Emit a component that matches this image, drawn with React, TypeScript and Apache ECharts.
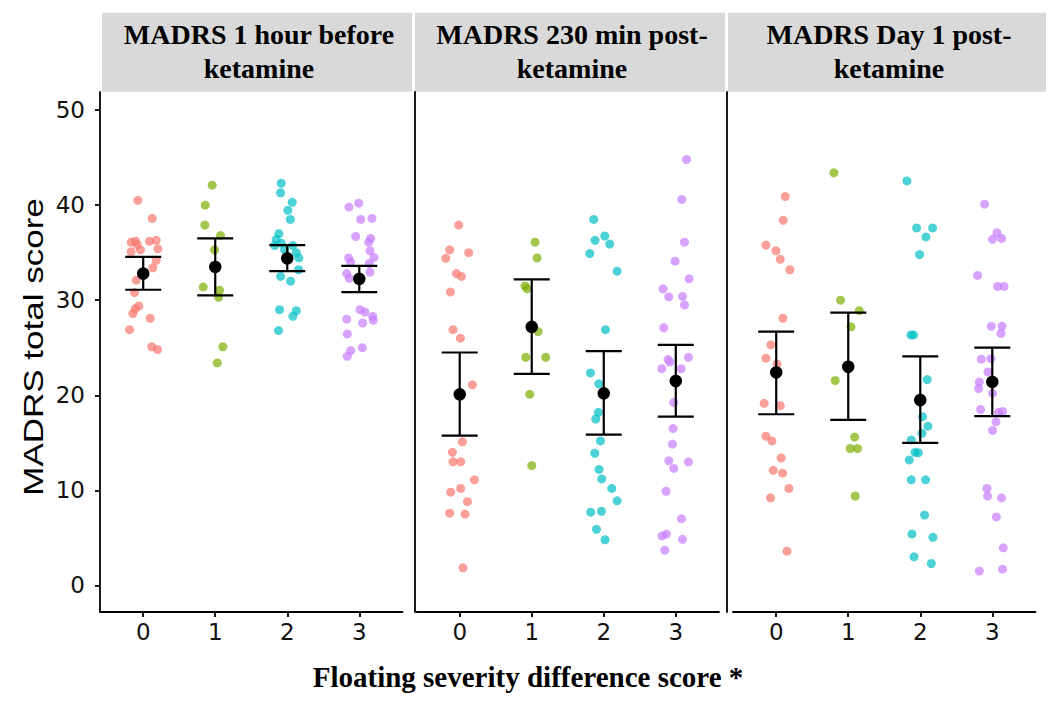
import React, { useEffect, useRef } from "react";
import * as echarts from "echarts";

// ---------- DATA ----------
const panelTitles: [string, string][] = [
  ["MADRS 1 hour before", "ketamine"],
  ["MADRS 230 min post-", "ketamine"],
  ["MADRS Day 1 post-", "ketamine"],
];
const xTicks = [0, 1, 2, 3];
const yTicks = [0, 10, 20, 30, 40, 50];
const groupColors = ["#F8766D", "#7CAE00", "#00BFC4", "#C77CFF"];
const yTitle = "MADRS total score";
const xTitle = "Floating severity difference score *";

// points: [jittered x, MADRS score]
// Panel 1: 1 hour before ketamine
const p1g0: [number, number][] = [
  [-0.075, 40.5], [0.125, 38.6], [-0.167, 36.1], [-0.107, 36.2], [-0.083, 35.85], [-0.038, 35.3],
  [-0.167, 35.1], [0.088, 36.2], [0.18, 36.3], [0.203, 35.4], [0.18, 34.2], [0.133, 33.4],
  [-0.097, 32.1], [-0.121, 30.8], [-0.061, 29.4], [-0.111, 29.1], [-0.144, 28.6], [0.097, 28.1],
  [-0.19, 26.9], [0.119, 25.1], [0.199, 24.8],
];
const p1g1: [number, number][] = [
  [0.958, 42.1], [0.861, 40.0], [0.856, 37.9], [1.074, 36.8], [0.99, 35.3], [0.833, 31.4],
  [1.06, 31.05], [1.046, 30.3], [1.106, 25.1], [1.028, 23.4],
];
const p1g2: [number, number][] = [
  [1.917, 42.3], [1.907, 41.3], [2.069, 40.3], [2.008, 39.45], [2.042, 38.5], [1.883, 37.0],
  [1.847, 36.4], [1.824, 35.75], [1.917, 36.0], [2.078, 35.75], [1.963, 35.3], [2.125, 35.0],
  [2.161, 34.45], [2.157, 33.2], [1.907, 32.5], [2.046, 32.0], [1.893, 29.0], [2.125, 28.9],
  [2.078, 28.3], [1.879, 26.8],
];
const p1g3: [number, number][] = [
  [2.857, 39.8], [2.992, 40.2], [3.019, 38.5], [3.176, 38.6], [2.95, 36.7], [3.158, 36.5],
  [3.131, 36.1], [3.149, 35.2], [3.204, 34.5], [2.853, 34.45], [2.881, 34.0], [3.139, 33.85],
  [2.825, 32.8], [2.861, 32.3], [3.149, 32.95], [3.01, 29.0], [3.079, 28.75], [3.186, 28.3],
  [3.194, 27.9], [2.825, 28.0], [3.047, 27.6], [2.833, 26.45], [3.042, 25.0], [2.881, 24.7],
  [2.833, 24.1],
];
// Panel 2: 230 min post-ketamine
const p2g0: [number, number][] = [
  [-0.014, 37.9], [-0.139, 35.3], [-0.194, 34.4], [0.125, 35.0], [-0.046, 32.8], [0.024, 32.5],
  [-0.129, 30.85], [-0.093, 26.9], [0.01, 26.0], [0.176, 21.1], [0.038, 15.1], [-0.101, 14.0],
  [-0.093, 13.0], [0.014, 13.0], [0.204, 11.1], [-0.125, 9.8], [0.014, 10.2], [0.107, 8.8],
  [-0.139, 7.6], [0.074, 7.5], [0.046, 1.85],
];
const p2g1: [number, number][] = [
  [1.046, 36.1], [1.074, 34.45], [0.907, 31.5], [0.935, 31.2], [1.088, 26.7], [0.917, 24.0],
  [1.194, 24.0], [0.972, 20.1], [1.0, 12.6],
];
const p2g2: [number, number][] = [
  [1.861, 38.5], [1.879, 36.3], [2.014, 36.75], [2.083, 35.9], [1.806, 34.9], [2.185, 33.05],
  [2.024, 26.9], [1.815, 22.35], [1.931, 21.2], [1.926, 18.2], [1.889, 17.5], [1.954, 15.2],
  [1.875, 13.9], [1.935, 12.2], [1.972, 11.2], [2.111, 10.2], [2.185, 8.9], [1.819, 7.7],
  [1.968, 7.8], [1.899, 5.9], [2.018, 4.8],
];
const p2g3: [number, number][] = [
  [3.149, 44.8], [3.083, 40.6], [3.121, 36.1], [2.99, 34.1], [3.185, 32.25], [2.824, 31.2],
  [2.903, 30.35], [3.093, 30.4], [3.121, 29.5], [2.833, 27.1], [2.893, 23.75], [2.917, 23.5],
  [3.176, 24.0], [2.806, 22.8], [3.074, 22.8], [2.972, 19.25], [2.963, 16.5], [2.954, 14.85],
  [2.903, 13.1], [2.972, 12.3], [3.176, 13.0], [2.865, 9.9], [3.079, 7.0], [2.81, 5.2],
  [2.871, 5.4], [3.093, 4.85], [2.847, 3.7],
];
// Panel 3: Day 1 post-ketamine
const p3g0: [number, number][] = [
  [0.125, 40.9], [0.097, 38.4], [-0.143, 35.8], [-0.004, 35.2], [0.056, 34.3], [0.19, 33.2],
  [0.093, 28.1], [-0.074, 25.3], [-0.143, 23.9], [0.01, 23.3], [-0.167, 19.15], [0.056, 18.9],
  [-0.143, 15.7], [-0.06, 15.2], [0.069, 13.4], [-0.042, 12.1], [0.088, 11.8], [0.176, 10.2],
  [-0.079, 9.2], [0.149, 3.6],
];
const p3g1: [number, number][] = [
  [0.801, 43.4], [0.893, 30.0], [1.153, 28.9], [1.038, 27.2], [0.819, 21.55], [1.088, 15.6],
  [1.028, 14.4], [1.129, 14.4], [1.097, 9.4],
];
const p3g2: [number, number][] = [
  [1.815, 42.55], [1.949, 37.6], [2.171, 37.6], [2.079, 36.65], [1.99, 34.8], [1.871, 26.35],
  [1.907, 26.35], [2.097, 21.65], [2.032, 17.75], [2.107, 16.75], [2.024, 16.0], [1.875, 15.3],
  [1.926, 14.0], [1.972, 13.95], [1.847, 13.2], [1.875, 11.1], [2.074, 11.1], [2.06, 7.4],
  [1.885, 5.4], [2.176, 5.05], [1.913, 3.0], [2.153, 2.3],
];
const p3g3: [number, number][] = [
  [2.893, 40.1], [3.065, 37.1], [3.004, 36.4], [3.129, 36.5], [2.796, 32.6], [3.074, 31.45],
  [3.163, 31.45], [2.986, 27.25], [3.135, 27.25], [3.121, 26.5], [2.847, 23.8], [2.981, 23.85],
  [2.94, 22.45], [2.82, 21.4], [2.81, 20.7], [3.004, 20.2], [2.838, 18.5], [3.088, 18.2],
  [3.144, 18.3], [3.051, 17.2], [3.004, 16.3], [2.926, 10.2], [2.935, 9.4], [3.129, 9.2],
  [3.056, 7.2], [3.153, 3.95], [2.82, 1.5], [3.143, 1.7],
];

// group means and interval bounds
const p1Mean = [32.8, 33.5, 34.4, 32.25];
const p1Low = [31.1, 30.5, 33.05, 30.85];
const p1High = [34.55, 36.5, 35.8, 33.6];
const p2Mean = [20.1, 27.2, 20.2, 21.5];
const p2Low = [15.75, 22.25, 15.85, 17.75];
const p2High = [24.5, 32.2, 24.65, 25.3];
const p3Mean = [22.4, 23.0, 19.5, 21.4];
const p3Low = [18.0, 17.4, 15.0, 17.8];
const p3High = [26.7, 28.7, 24.1, 25.0];

const panelPoints = [
  [p1g0, p1g1, p1g2, p1g3],
  [p2g0, p2g1, p2g2, p2g3],
  [p3g0, p3g1, p3g2, p3g3],
];
const panelMeans = [p1Mean, p2Mean, p3Mean];
const panelLows = [p1Low, p2Low, p3Low];
const panelHighs = [p1High, p2High, p3High];

// ---------- LAYOUT ----------
const gridLefts = [100, 416.5, 733];
const gridWidth = 302.5;
const gridTop = 92;
const gridHeight = 520;
const yAxisOffsets = [0, 2, 6.5];
const strips = [
  { x: 102, w: 310 },
  { x: 415, w: 310 },
  { x: 728, w: 318 },
];

const sans = "'Liberation Sans', Arial, Helvetica, sans-serif";
const tickFont = "'DejaVu Sans', 'Liberation Sans', Arial, sans-serif";
const serif = "'Liberation Serif', 'Times New Roman', Times, serif";

function buildOption() {
  const grid: any[] = [];
  const xAxis: any[] = [];
  const yAxis: any[] = [];
  const series: any[] = [];
  const graphic: any[] = [];

  for (let p = 0; p < 3; p++) {
    grid.push({ left: gridLefts[p], top: gridTop, width: gridWidth, height: gridHeight, containLabel: false });
    xAxis.push({
      type: "value",
      gridIndex: p,
      min: -0.6,
      max: 3.6,
      splitLine: { show: false },
      axisLine: { show: true, onZero: false, lineStyle: { color: "#000", width: 1.8 } },
      axisTick: { show: true, length: 5, customValues: xTicks, lineStyle: { color: "#000", width: 1.8 } },
      axisLabel: {
        show: true,
        customValues: xTicks,
        fontSize: 23,
        fontFamily: tickFont,
        color: "#111",
        margin: 8,
        formatter: (v: number) => String(v),
      },
    });
    yAxis.push({
      type: "value",
      gridIndex: p,
      min: -2.8,
      max: 51.9,
      offset: yAxisOffsets[p],
      splitLine: { show: false },
      axisLine: { show: true, onZero: false, lineStyle: { color: "#000", width: 1.8 } },
      axisTick: { show: p === 0, length: 5, customValues: yTicks, lineStyle: { color: "#000", width: 1.8 } },
      axisLabel: {
        show: p === 0,
        customValues: yTicks,
        fontSize: 23,
        fontFamily: tickFont,
        color: "#111",
        margin: 15,
        formatter: (v: number) => String(v),
      },
    });

    for (let g = 0; g < 4; g++) {
      series.push({
        type: "scatter",
        xAxisIndex: p,
        yAxisIndex: p,
        data: panelPoints[p][g],
        symbol: "circle",
        symbolSize: 9,
        itemStyle: { color: groupColors[g], opacity: 0.7 },
        z: 2,
      });
    }

    const barData = xTicks.map((c, i) => [c, panelLows[p][i], panelHighs[p][i]]);
    series.push({
      type: "custom",
      xAxisIndex: p,
      yAxisIndex: p,
      data: barData,
      encode: { x: 0, y: [1, 2] },
      z: 3,
      renderItem: (params: any, api: any) => {
        const x = api.value(0);
        const lo = api.coord([x, api.value(1)]);
        const hi = api.coord([x, api.value(2)]);
        const half = api.size([0.25, 0])[0];
        const style = { stroke: "#000", lineWidth: 2.2 };
        return {
          type: "group",
          children: [
            { type: "line", shape: { x1: lo[0], y1: lo[1], x2: hi[0], y2: hi[1] }, style },
            { type: "line", shape: { x1: lo[0] - half, y1: lo[1], x2: lo[0] + half, y2: lo[1] }, style },
            { type: "line", shape: { x1: hi[0] - half, y1: hi[1], x2: hi[0] + half, y2: hi[1] }, style },
          ],
        };
      },
    });

    series.push({
      type: "scatter",
      xAxisIndex: p,
      yAxisIndex: p,
      data: xTicks.map((c, i) => [c, panelMeans[p][i]]),
      symbol: "circle",
      symbolSize: 12.5,
      itemStyle: { color: "#000", opacity: 1 },
      z: 4,
    });

    // strip
    graphic.push({
      type: "rect",
      shape: { x: strips[p].x, y: 12.7, width: strips[p].w, height: 79 },
      style: { fill: "#d9d9d9" },
      silent: true,
    });
    const cx = strips[p].x + strips[p].w / 2 + 2;
    graphic.push({
      type: "text",
      x: cx,
      y: 34,
      style: {
        text: panelTitles[p][0],
        font: `bold 28px ${serif}`,
        fill: "#000",
        align: "center",
        verticalAlign: "middle",
      },
      silent: true,
    });
    graphic.push({
      type: "text",
      x: cx,
      y: 68,
      style: {
        text: panelTitles[p][1],
        font: `bold 28px ${serif}`,
        fill: "#000",
        align: "center",
        verticalAlign: "middle",
      },
      silent: true,
    });
  }

  graphic.push({
    type: "text",
    x: 33,
    y: 347,
    rotation: Math.PI / 2,
    scaleX: 1.25,
    style: {
      text: yTitle,
      font: `28px ${sans}`,
      fill: "#000",
      align: "center",
      verticalAlign: "middle",
    },
    silent: true,
  });
  graphic.push({
    type: "text",
    x: 528,
    y: 677,
    style: {
      text: xTitle,
      font: `bold 29px ${serif}`,
      fill: "#000",
      align: "center",
      verticalAlign: "middle",
    },
    silent: true,
  });

  return {
    animation: false,
    backgroundColor: "#fff",
    grid,
    xAxis,
    yAxis,
    series,
    graphic,
  };
}

export default function App() {
  const ref = useRef<HTMLDivElement>(null);
  useEffect(() => {
    if (!ref.current) return;
    const chart = echarts.init(ref.current, undefined, { renderer: "svg" });
    chart.setOption(buildOption() as any);
    return () => chart.dispose();
  }, []);
  return (
    <div
      ref={ref}
      style={{ position: "absolute", left: 0, top: 0, width: 1050, height: 709 }}
    />
  );
}
